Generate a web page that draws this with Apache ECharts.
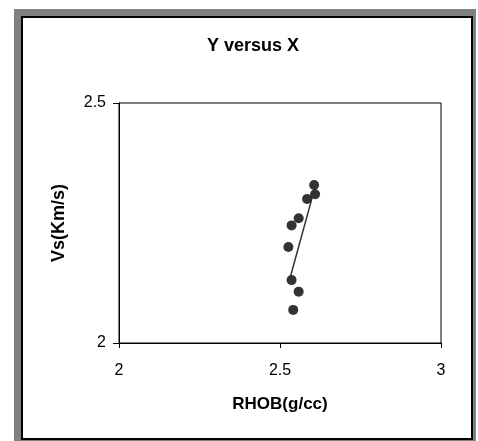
<!DOCTYPE html>
<html>
<head>
<meta charset="utf-8">
<script src="https://cdn.jsdelivr.net/npm/echarts@6/dist/echarts.min.js"></script>
<style>
  html, body { margin: 0; padding: 0; background: #fff; }
  #chart { width: 478px; height: 441px; }
</style>
</head>
<body>
<div id="chart"></div>
<script>
// Density (g/cc) versus shear velocity (km/s)
const rhob = [2.606, 2.609, 2.584, 2.558, 2.536, 2.526, 2.536, 2.558, 2.541];
const vs   = [2.329, 2.310, 2.300, 2.260, 2.245, 2.200, 2.131, 2.107, 2.069];

// Linear trend line endpoints
const trendX = [2.531, 2.606];
const trendY = [2.135, 2.318];

const xTicks = [2, 2.5, 3];
const yTicks = [2, 2.5];

const points = rhob.map((x, i) => [x, vs[i]]);
const trend = trendX.map((x, i) => [x, trendY[i]]);

const FONT = 'Liberation Sans, Arial, sans-serif';

const chart = echarts.init(document.getElementById('chart'), null, { renderer: 'canvas' });
chart.setOption({
  animation: false,
  backgroundColor: '#fff',
  graphic: [
    { type: 'rect', z: -10, shape: { x: 14, y: 9, width: 462, height: 440 },
      style: { fill: '#808080' }, silent: true },
    { type: 'rect', z: -9, shape: { x: 22, y: 17, width: 450, height: 422 },
      style: { fill: '#fff', stroke: '#000', lineWidth: 2 }, silent: true }
  ],
  title: {
    text: 'Y versus X',
    left: 248, top: 32, textAlign: 'center',
    textStyle: { fontFamily: FONT, fontSize: 18, fontWeight: 'bold', color: '#000' }
  },
  grid: {
    left: 119, top: 103, right: 37, bottom: 98,
    show: true, borderColor: '#000', borderWidth: 1, backgroundColor: 'transparent'
  },
  xAxis: {
    type: 'value', min: 2, max: 3, interval: 0.5,
    name: 'RHOB(g/cc)', nameLocation: 'middle', nameGap: 53,
    nameTextStyle: { fontFamily: FONT, fontSize: 17, fontWeight: 'bold', color: '#000' },
    axisLine: { show: true, onZero: false, lineStyle: { color: '#000', width: 1 } },
    axisTick: { show: true, inside: false, length: 5, lineStyle: { color: '#000' } },
    axisLabel: { margin: 20, fontFamily: FONT, fontSize: 16, color: '#000',
      formatter: v => xTicks.includes(v) ? String(v) : '' },
    splitLine: { show: false }
  },
  yAxis: {
    type: 'value', min: 2, max: 2.5, interval: 0.5,
    name: 'Vs(Km/s)', nameLocation: 'middle', nameGap: 51,
    nameTextStyle: { fontFamily: FONT, fontSize: 18, fontWeight: 'bold', color: '#000' },
    axisLine: { show: true, onZero: false, lineStyle: { color: '#000', width: 1 } },
    axisTick: { show: true, inside: false, length: 6, lineStyle: { color: '#000' } },
    axisLabel: { margin: 13, fontFamily: FONT, fontSize: 16, color: '#000',
      formatter: v => yTicks.includes(v) ? String(v) : '' },
    splitLine: { show: false }
  },
  series: [
    {
      type: 'line', data: trend, symbol: 'none', z: 3,
      lineStyle: { color: '#333', width: 1.5 }
    },
    {
      type: 'scatter', data: points, symbol: 'circle', symbolSize: 10, z: 2,
      itemStyle: { color: '#000' }
    }
  ]
});
</script>
</body>
</html>
